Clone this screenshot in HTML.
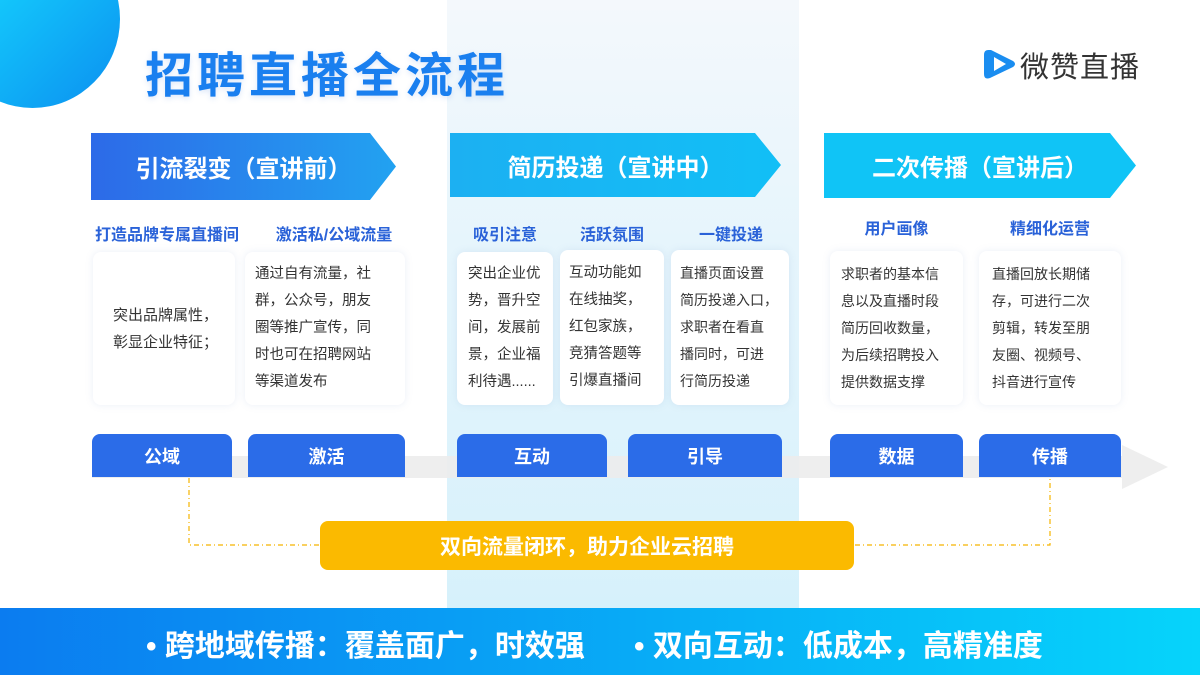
<!DOCTYPE html>
<html><head><meta charset="utf-8"><style>
*{margin:0;padding:0;box-sizing:border-box}
body{width:1200px;height:675px;position:relative;overflow:hidden;background:#fff;font-family:"Liberation Sans","Noto Sans CJK SC",sans-serif}
.a{position:absolute}
.circ{left:-55px;top:-70px;width:175px;height:178px;border-radius:50%;background:linear-gradient(135deg,#7fe0ff 0%,#13c6fb 35%,#0b8ff0 100%)}
.hl{left:447px;top:0;width:352px;height:610px;background:linear-gradient(180deg,#f4f8fc 0%,#e6f5fc 40%,#d6f1fb 100%)}
.title{left:145px;top:36px;font-size:48px;font-weight:bold;color:#1a7fef;letter-spacing:4px;text-shadow:0 2px 6px rgba(60,120,220,.18)}
.logo{left:1020px;top:44px;font-size:29px;color:#333;letter-spacing:1px}
.ban{color:#fff;font-size:24px;font-weight:bold;display:flex;align-items:center;justify-content:center;clip-path:polygon(0 0,calc(100% - 26px) 0,100% 50%,calc(100% - 26px) 100%,0 100%)}
.sub{font-size:16px;font-weight:bold;color:#2a62d8;text-align:center}
.card{background:#fff;border-radius:8px;box-shadow:0 0 8px rgba(120,150,200,.15);font-size:14.5px;color:#333;line-height:27px;display:flex;align-items:center;white-space:nowrap}
.btn{background:#2b6ce8;color:#fff;font-size:18px;font-weight:bold;border-radius:8px 8px 0 0;display:flex;align-items:center;justify-content:center;height:43px;top:434px}
</style></head><body>
<div class="a hl"></div>
<div class="a circ"></div>
<div class="a title">招聘直播全流程</div>
<svg class="a" style="left:982px;top:46px" width="36" height="36" viewBox="0 0 36 36"><path d="M6 4 Q2 4 2 9 V28 Q2 34 8 32 L31 21 Q35 18 31 15 L9 4 Z" fill="#1a8df0"/><path d="M12 11 L24 18 L12 25 Z" fill="#fff"/></svg>
<div class="a logo">微赞直播</div>

<div class="a ban" style="left:91px;top:133px;width:305px;height:67px;background:linear-gradient(90deg,#2d6ae8,#22a2f1)">引流裂变（宣讲前）</div>
<div class="a ban" style="left:450px;top:133px;width:331px;height:64px;background:linear-gradient(90deg,#1cb0f2,#12bff6)">简历投递（宣讲中）</div>
<div class="a ban" style="left:824px;top:133px;width:312px;height:65px;background:#10c4f6">二次传播（宣讲后）</div>

<div class="a sub" style="left:84px;top:221px;width:166px">打造品牌专属直播间</div>
<div class="a sub" style="left:262px;top:221px;width:144px">激活私/公域流量</div>
<div class="a sub" style="left:457px;top:221px;width:96px">吸引注意</div>
<div class="a sub" style="left:560px;top:221px;width:104px">活跃氛围</div>
<div class="a sub" style="left:672px;top:221px;width:118px">一键投递</div>
<div class="a sub" style="left:830px;top:215px;width:133px">用户画像</div>
<div class="a sub" style="left:979px;top:215px;width:142px">精细化运营</div>

<div class="a card" style="left:93px;top:252px;width:142px;height:153px;padding-left:20px;font-size:15px">突出品牌属性，<br>彰显企业特征；</div>
<div class="a card" style="left:245px;top:252px;width:160px;height:153px;padding-left:10px">通过自有流量，社<br>群，公众号，朋友<br>圈等推广宣传，同<br>时也可在招聘网站<br>等渠道发布</div>
<div class="a card" style="left:457px;top:252px;width:96px;height:153px;padding-left:11px">突出企业优<br>势，晋升空<br>间，发展前<br>景，企业福<br>利待遇......</div>
<div class="a card" style="left:560px;top:250px;width:104px;height:155px;padding-left:9px">互动功能如<br>在线抽奖，<br>红包家族，<br>竞猜答题等<br>引爆直播间</div>
<div class="a card" style="left:671px;top:250px;width:118px;height:155px;padding-left:9px;font-size:14px">直播页面设置<br>简历投递入口，<br>求职者在看直<br>播同时，可进<br>行简历投递</div>
<div class="a card" style="left:830px;top:251px;width:133px;height:154px;padding-left:11px;font-size:14px">求职者的基本信<br>息以及直播时段<br>简历回收数量，<br>为后续招聘投入<br>提供数据支撑</div>
<div class="a card" style="left:979px;top:251px;width:142px;height:154px;padding-left:13px;font-size:14px">直播回放长期储<br>存，可进行二次<br>剪辑，转发至朋<br>友圈、视频号、<br>抖音进行宣传</div>

<svg class="a" style="left:0;top:0" width="1200" height="610">
<polygon points="92,456 1122,456 1122,445 1168,467 1122,489 1122,478 92,478" fill="#ececec" opacity=".9"/>
<path d="M189 478 V545 H320 M855 545 H1050 V478" fill="none" stroke="#f5b400" stroke-width="1.2" stroke-dasharray="5,3,1,3"/>
</svg>
<div class="a btn" style="left:92px;width:140px">公域</div>
<div class="a btn" style="left:248px;width:157px">激活</div>
<div class="a btn" style="left:457px;width:150px">互动</div>
<div class="a btn" style="left:628px;width:154px">引导</div>
<div class="a btn" style="left:830px;width:133px">数据</div>
<div class="a btn" style="left:979px;width:142px">传播</div>

<div class="a" style="left:320px;top:521px;width:534px;height:49px;background:#fbba00;border-radius:8px;color:#fff;font-size:21px;font-weight:bold;display:flex;align-items:center;justify-content:center">双向流量闭环，助力企业云招聘</div>

<div class="a" style="left:0;top:608px;width:1200px;height:67px;background:linear-gradient(90deg,#0b7cf0,#06d4fb)"></div>
<div class="a" style="left:146px;top:621px;font-size:30px;font-weight:bold;color:#fff;white-space:nowrap">• 跨地域传播：覆盖面广，时效强</div>
<div class="a" style="left:634px;top:621px;font-size:30px;font-weight:bold;color:#fff;white-space:nowrap">• 双向互动：低成本，高精准度</div>
</body></html>
